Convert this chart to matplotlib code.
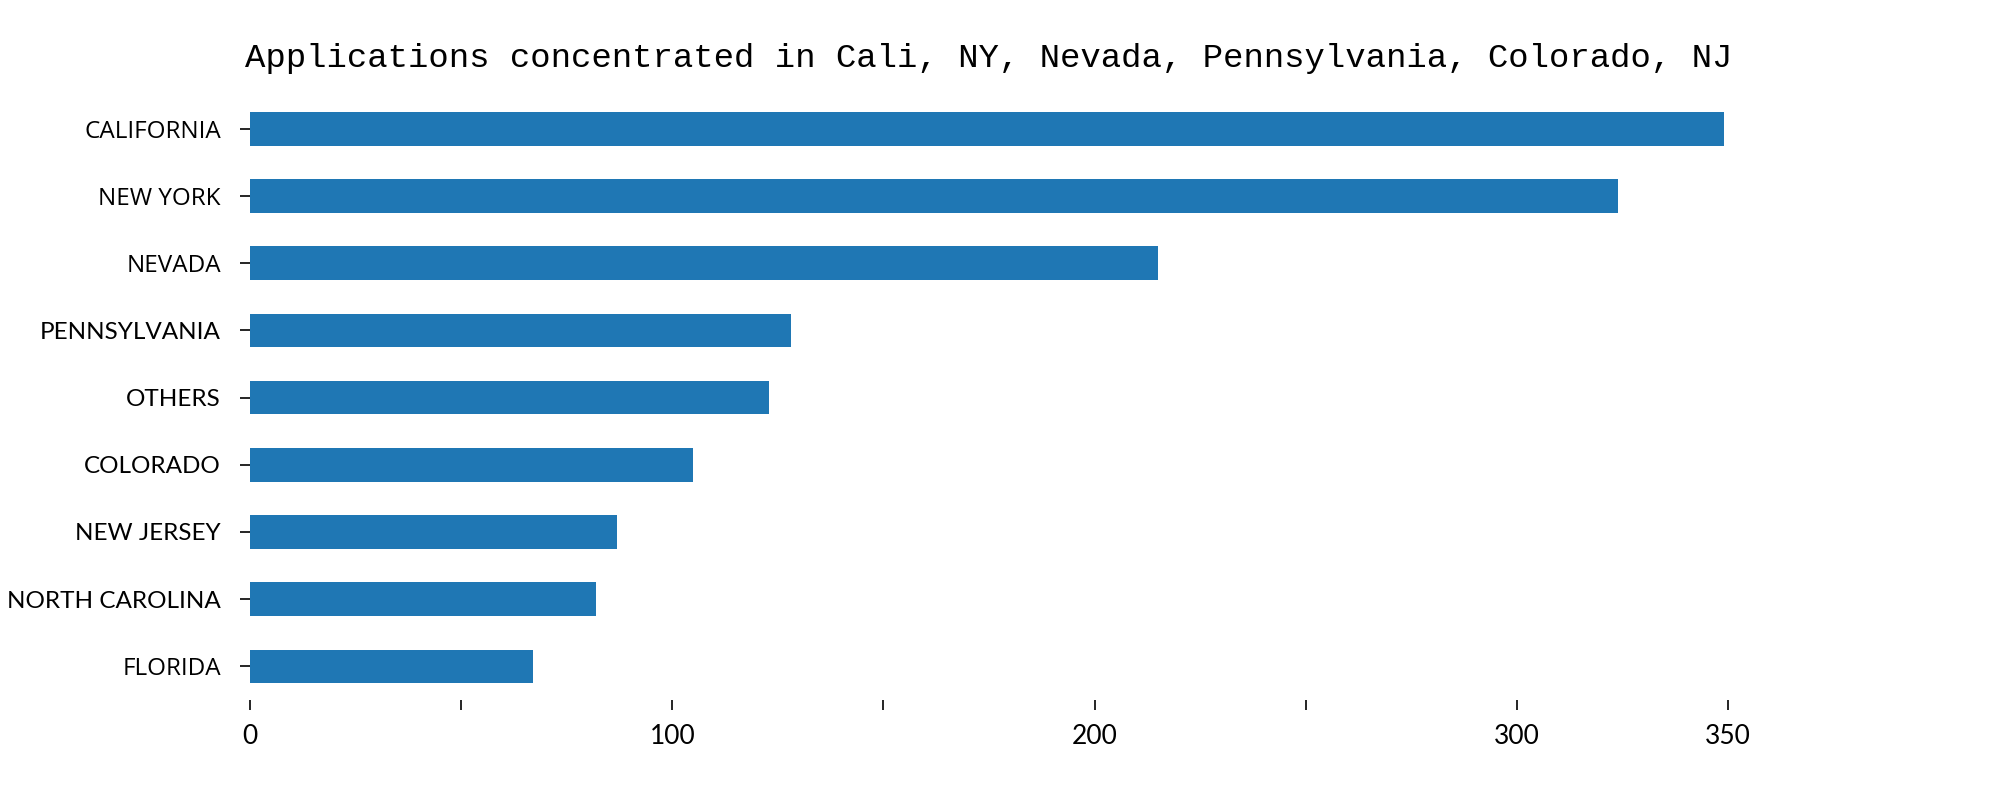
import matplotlib.pyplot as plt

# Applications per state
states = ['CALIFORNIA', 'NEW YORK', 'NEVADA', 'PENNSYLVANIA', 'OTHERS',
          'COLORADO', 'NEW JERSEY', 'NORTH CAROLINA', 'FLORIDA']
applications = [349, 324, 215, 128, 123, 105, 87, 82, 67]
x_ticks = [0, 50, 100, 150, 200, 250, 300, 350]
x_tick_labels = ['0', '', '100', '', '200', '', '300', '350']

# some labels in the original came out in a different (rounder) font
round_font = {'CALIFORNIA', 'NEW YORK', 'NEVADA', 'FLORIDA'}

fig = plt.figure(figsize=(20, 8), dpi=100)
ax = fig.add_axes([0.125, 0.125, 0.739, 0.756])

pos = list(range(len(states)))[::-1]
ax.barh(pos, applications, height=0.5, color='#1f77b4')

ax.set_xlim(0, 350)
ax.set_ylim(-0.5, len(states) - 0.5)
ax.set_xticks(x_ticks)
ax.set_xticklabels(x_tick_labels, fontsize=19, family='Lato')
ax.set_yticks(pos)
ax.set_yticklabels(states, fontsize=17.5)
for lbl in ax.get_yticklabels():
    lbl.set_family('Open Sans' if lbl.get_text() in round_font else 'Lato')

for s in ax.spines.values():
    s.set_visible(False)
ax.tick_params(axis='both', length=7, width=1.2, color='black')
ax.tick_params(axis='y', pad=14)
ax.tick_params(axis='x', pad=10)

ax.set_title('Applications concentrated in Cali, NY, Nevada, Pennsylvania, Colorado, NJ',
             fontsize=24.5, family='Liberation Mono', pad=20)

fig.savefig('out.png')
